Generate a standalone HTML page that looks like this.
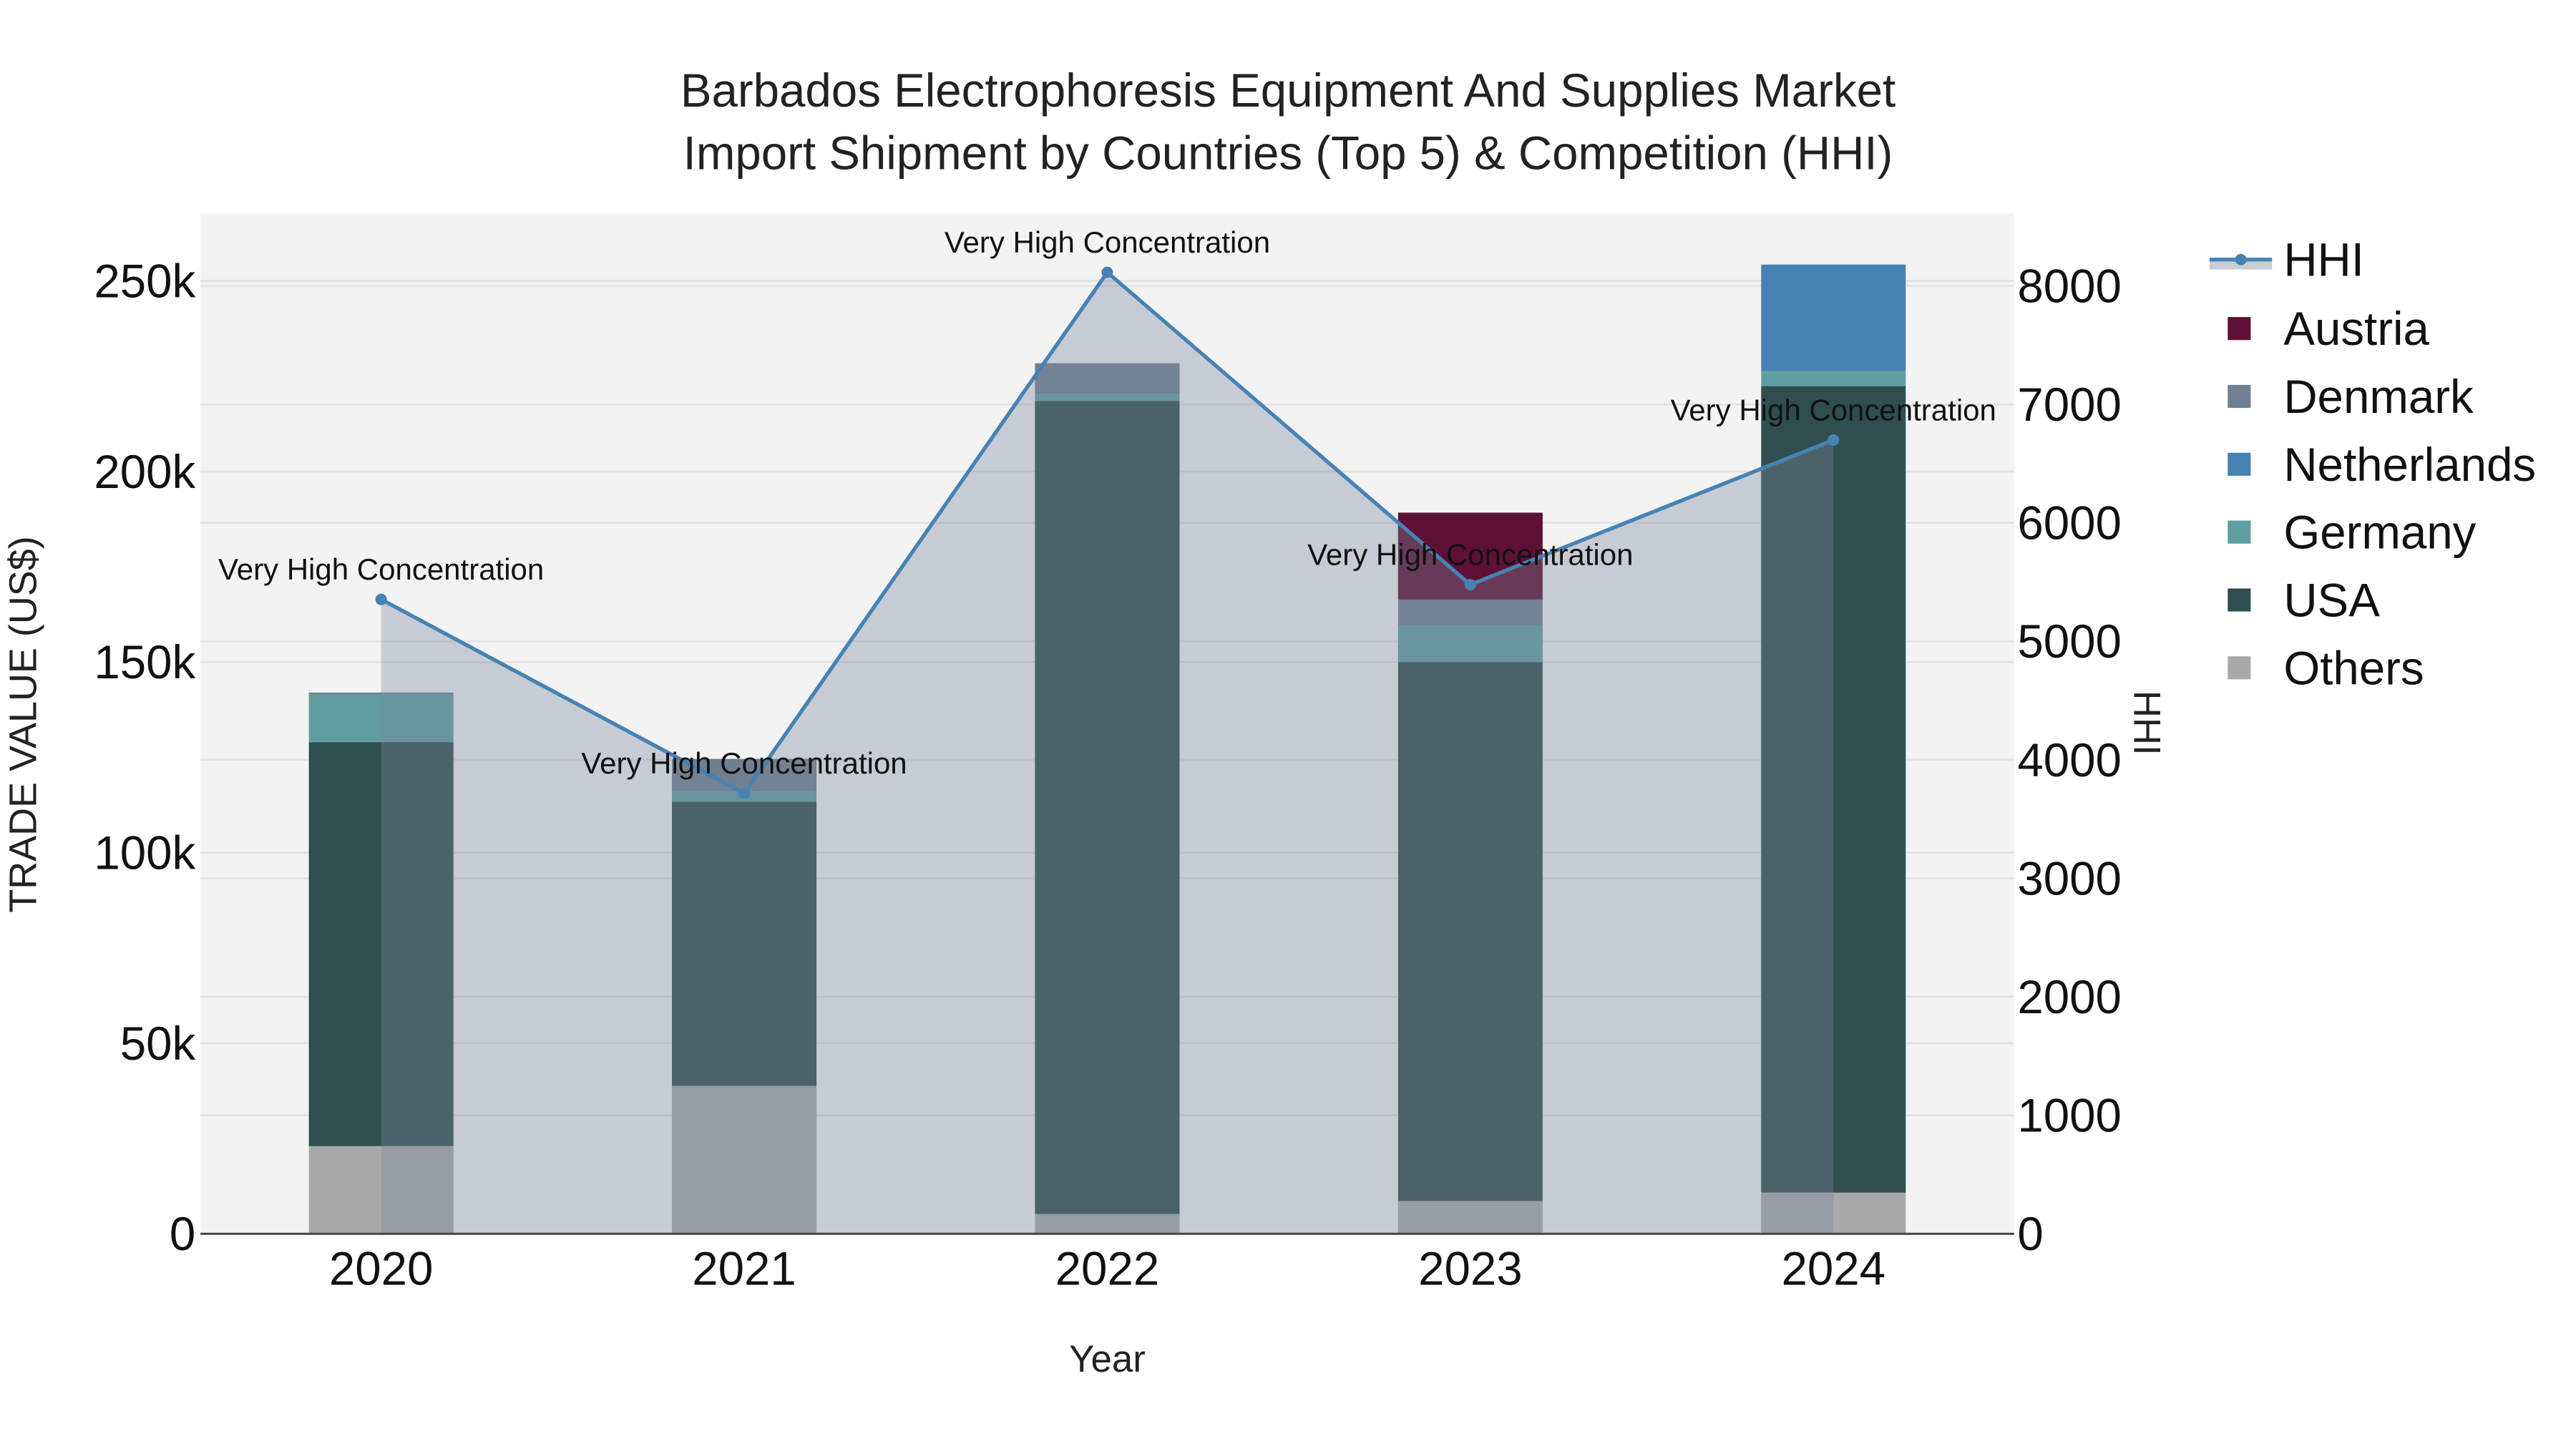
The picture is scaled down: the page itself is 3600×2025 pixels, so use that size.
<!DOCTYPE html>
<html><head><meta charset="utf-8">
<style>html,body{margin:0;padding:0;background:#fff;}svg{display:block;font-family:"Liberation Sans",sans-serif;}</style>
</head><body>
<svg id="chart" width="3600" height="2025" viewBox="0 0 1568 882" xmlns="http://www.w3.org/2000/svg">
<rect x="0" y="0" width="1568" height="882" fill="#fff"/>
<rect x="122" y="130" width="1104" height="621" fill="#f3f3f3"/>
<g id="grid"></g>
<g id="bars"></g>
<g id="hhi"></g>
<line x1="122" y1="751" x2="1226" y2="751" stroke="#444" stroke-width="1.3"/>
<g id="ticks" fill="#111"></g>
<text x="784" y="65" text-anchor="middle" font-size="28.5" fill="#222">Barbados Electrophoresis Equipment And Supplies Market</text>
<text x="784" y="103" text-anchor="middle" font-size="28.5" fill="#222">Import Shipment by Countries (Top 5) &amp; Competition (HHI)</text>
<text x="674" y="835" text-anchor="middle" font-size="23" fill="#222">Year</text>
<text transform="translate(22,441) rotate(-90)" text-anchor="middle" font-size="23.5" fill="#222">TRADE VALUE (US$)</text>
<text transform="translate(1299,440) rotate(90)" text-anchor="middle" font-size="23" fill="#222">HHI</text>
<g id="legend"></g>
</svg>
<script>
const years = ["2020","2021","2022","2023","2024"];
const others = [23000, 38800, 5200, 8600, 10800];
const usa = [106000, 74600, 213300, 141400, 211600];
const germany = [12500, 2600, 1800, 9500, 3900];
const netherlands = [0, 0, 0, 0, 28000];
const denmark = [500, 8600, 8100, 6900, 0];
const austria = [0, 0, 0, 22800, 0];
const hhi = [5354, 3717, 8114, 5478, 6699];
const yTicks = [0, 50000, 100000, 150000, 200000, 250000];
const yTickLabels = ["0", "50k", "100k", "150k", "200k", "250k"];
const y2Ticks = [0, 1000, 2000, 3000, 4000, 5000, 6000, 7000, 8000];
const annotationText = "Very High Concentration";

const NS = "http://www.w3.org/2000/svg";
const X0 = 122, X1 = 1226, Y0 = 751;
function xPos(i){ return 232 + i * 221; }
function yL(v){ return Y0 - v / 50000 * 116; }
function yR(v){ return Y0 - v / 1000 * 72.125; }
function mk(tag, attrs, parent){ const e = document.createElementNS(NS, tag); for (const k in attrs) e.setAttribute(k, attrs[k]); parent.appendChild(e); return e; }

const grid = document.getElementById('grid');
yTicks.forEach((v,i)=>{ if(v===0) return;
  const l = mk('line',{x1:X0,x2:X1,y1:yL(v),y2:yL(v),stroke:'#e2e2e2','stroke-width':1.2},grid);
  
  
});
y2Ticks.forEach(v=>{ if(v===0) return;
  const l = mk('line',{x1:X0,x2:X1,y1:yR(v),y2:yR(v),stroke:'#e2e2e2','stroke-width':1.2},grid);
  
  
});

const series = [
  {name:'others', vals:others, color:'#a9a9a9'},
  {name:'usa', vals:usa, color:'#2f4f4f'},
  {name:'germany', vals:germany, color:'#5f9ea0'},
  {name:'netherlands', vals:netherlands, color:'#4682b4'},
  {name:'denmark', vals:denmark, color:'#708090'},
  {name:'austria', vals:austria, color:'#5f1035'}
];
const bars = document.getElementById('bars');
years.forEach((yr,i)=>{
  let base = 0;
  series.forEach(s=>{
    const v = s.vals[i]; if(!v) return;
    const top = base + v;
    const r = mk('rect',{x:xPos(i)-44,width:88,y:yL(top),height:yL(base)-yL(top),fill:s.color},bars);
    
    
    base = top;
  });
});

const hg = document.getElementById('hhi');
let area = 'M'+xPos(0)+','+Y0;
hhi.forEach((v,i)=>{ area += ' L'+xPos(i)+','+yR(v); });
area += ' L'+xPos(hhi.length-1)+','+Y0+' Z';
const ar = mk('path',{d:area,fill:'rgba(122,133,154,0.36)'},hg);


const ln = mk('polyline',{points:hhi.map((v,i)=>xPos(i)+','+yR(v)).join(' '),fill:'none',stroke:'#4682b4','stroke-width':2.3},hg);


hhi.forEach((v,i)=>{
  const c = mk('circle',{cx:xPos(i),cy:yR(v),r:3.5,fill:'#4682b4'},hg);
  
  
  const t = mk('text',{x:xPos(i),y:yR(v)-12,'text-anchor':'middle','font-size':18.3,fill:'#111'},hg);
  t.textContent = annotationText;
  
  
});

const tk = document.getElementById('ticks');
yTicks.forEach((v,i)=>{
  const t = mk('text',{x:119,y:yL(v)+10,'text-anchor':'end','font-size':28.5},tk);
  t.textContent = yTickLabels[i];
  
  
});
y2Ticks.forEach(v=>{
  const t = mk('text',{x:1228,y:yR(v)+10,'text-anchor':'start','font-size':28.5},tk);
  t.textContent = String(v);
  
  
});
years.forEach((yr,i)=>{
  const t = mk('text',{x:xPos(i),y:782,'text-anchor':'middle','font-size':28.5},tk);
  t.textContent = yr;
  
  
});

const lg = document.getElementById('legend');
const hl1 = mk('rect',{x:1345,y:159,width:38,height:5,fill:'#c8ccd3'},lg);


const hl2 = mk('line',{x1:1345,x2:1383,y1:158,y2:158,stroke:'#4682b4','stroke-width':2.3},lg);


const hl3 = mk('circle',{cx:1364,cy:158,r:3.5,fill:'#4682b4'},lg);


const ht = mk('text',{x:1390,y:168,'font-size':28.5,fill:'#111'},lg);
ht.textContent = 'HHI';


const legendItems = [['Austria','#5f1035'],['Denmark','#708090'],['Netherlands','#4682b4'],['Germany','#5f9ea0'],['USA','#2f4f4f'],['Others','#a9a9a9']];
legendItems.forEach((it,i)=>{
  const cy = 200 + i*41.3;
  const r = mk('rect',{x:1356,y:cy-7,width:14,height:14,fill:it[1]},lg);
  
  
  const t = mk('text',{x:1390,y:cy+10,'font-size':28.5,fill:'#111'},lg);
  t.textContent = it[0];
  
  
});
</script>
</body></html>
